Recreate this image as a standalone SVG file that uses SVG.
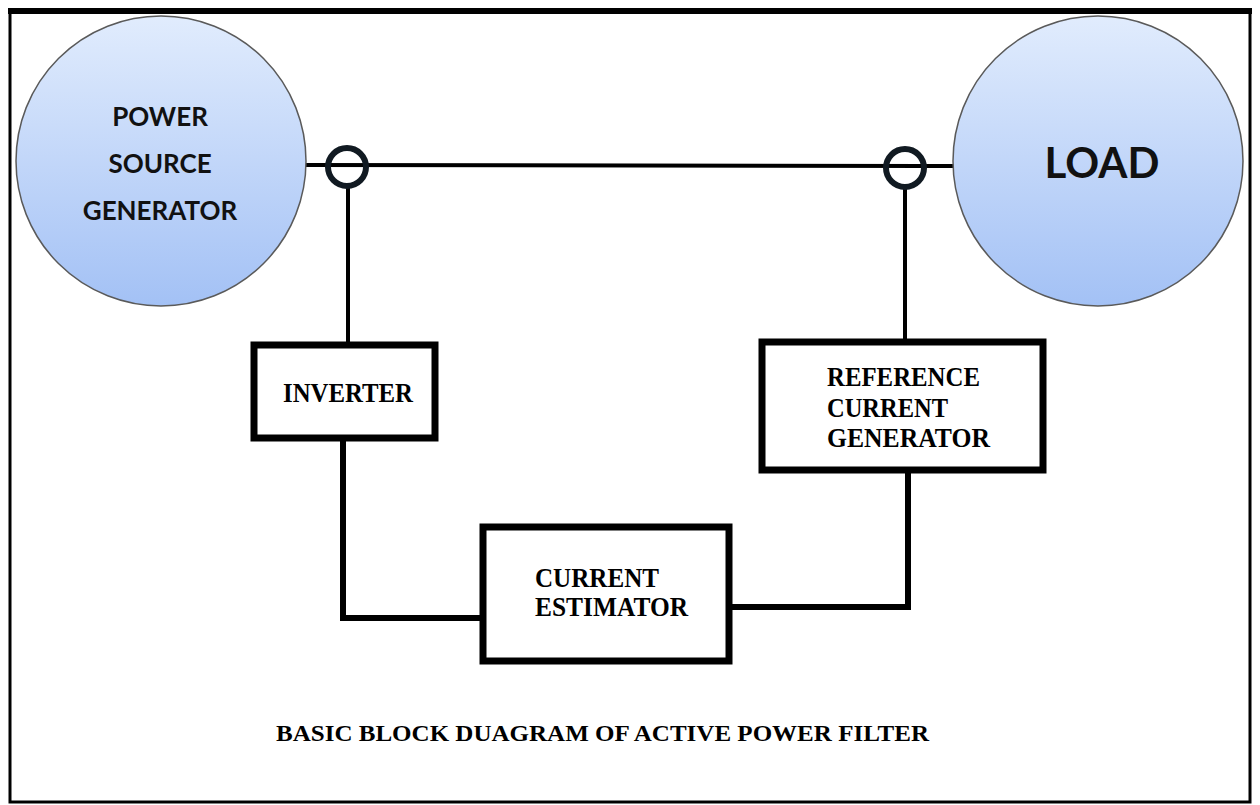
<svg xmlns="http://www.w3.org/2000/svg" width="1260" height="805" viewBox="0 0 1260 805">
<defs>
<linearGradient id="blue" x1="0" y1="0" x2="0" y2="1">
<stop offset="0" stop-color="#e1ecfd"/>
<stop offset="1" stop-color="#a3c1f5"/>
</linearGradient>
</defs>
<style>
.circ{fill:url(#blue);stroke:#5a5a5a;stroke-width:1.5}
.ring{fill:none;stroke:#111a22;stroke-width:6}
.box{fill:#fff;stroke:#000;stroke-width:7}
.wire{fill:none;stroke:#000;stroke-width:4}
.wire2{fill:none;stroke:#000;stroke-width:6}
.sans{font-family:Lato,"Open Sans","Liberation Sans",sans-serif;font-weight:bold;fill:#111}
.serif{font-family:"Liberation Serif","Times New Roman",serif;font-weight:bold;fill:#000}
</style>
<rect x="0" y="0" width="1260" height="805" fill="#fff"/>
<g id="frame">
<rect x="10" y="11" width="1240" height="791" fill="none" stroke="#000" stroke-width="3"/>
<line x1="8" y1="11" x2="1252" y2="11" stroke="#000" stroke-width="6"/>
</g>
<g id="connectors">
<line class="wire" x1="306" y1="165" x2="925" y2="166"/>
<line class="wire" x1="925" y1="166" x2="954" y2="166"/>
<line class="wire" x1="348" y1="186" x2="348" y2="344"/>
<line class="wire" x1="905" y1="187" x2="905" y2="341"/>
<polyline class="wire2" points="343,440 343,618 481,618"/>
<polyline class="wire2" points="731,607 908,607 908,472"/>
</g>
<g id="power-source">
<circle class="circ" cx="161" cy="161" r="145"/>
<text class="sans" font-size="26" text-anchor="middle" x="160" y="126">POWER</text>
<text class="sans" font-size="26" text-anchor="middle" x="160" y="173">SOURCE</text>
<text class="sans" font-size="26" text-anchor="middle" x="160" y="220">GENERATOR</text>
</g>
<g id="load">
<circle class="circ" cx="1098" cy="161" r="145"/>
<text class="sans" font-size="42" text-anchor="middle" x="1102" y="178">LOAD</text>
</g>
<g id="sensor-left">
<circle class="ring" cx="347" cy="167" r="19"/>
</g>
<g id="sensor-right">
<circle class="ring" cx="905" cy="168" r="19"/>
</g>
<g id="inverter">
<rect class="box" x="254" y="345" width="181" height="93"/>
<text class="serif" font-size="28" x="283" y="402" textLength="130" lengthAdjust="spacingAndGlyphs">INVERTER</text>
</g>
<g id="reference-current-generator">
<rect class="box" x="762" y="342" width="281" height="128"/>
<text class="serif" font-size="28" x="827" y="386" textLength="153" lengthAdjust="spacingAndGlyphs">REFERENCE</text>
<text class="serif" font-size="28" x="827" y="417" textLength="121" lengthAdjust="spacingAndGlyphs">CURRENT</text>
<text class="serif" font-size="28" x="827" y="447" textLength="163" lengthAdjust="spacingAndGlyphs">GENERATOR</text>
</g>
<g id="current-estimator">
<rect class="box" x="483" y="527" width="246" height="134"/>
<text class="serif" font-size="28" x="535" y="587" textLength="124" lengthAdjust="spacingAndGlyphs">CURRENT</text>
<text class="serif" font-size="28" x="535" y="616" textLength="153" lengthAdjust="spacingAndGlyphs">ESTIMATOR</text>
</g>
<g id="caption">
<text class="serif" font-size="24" x="276" y="741" textLength="653" lengthAdjust="spacingAndGlyphs">BASIC BLOCK DUAGRAM OF ACTIVE POWER FILTER</text>
</g>
</svg>
